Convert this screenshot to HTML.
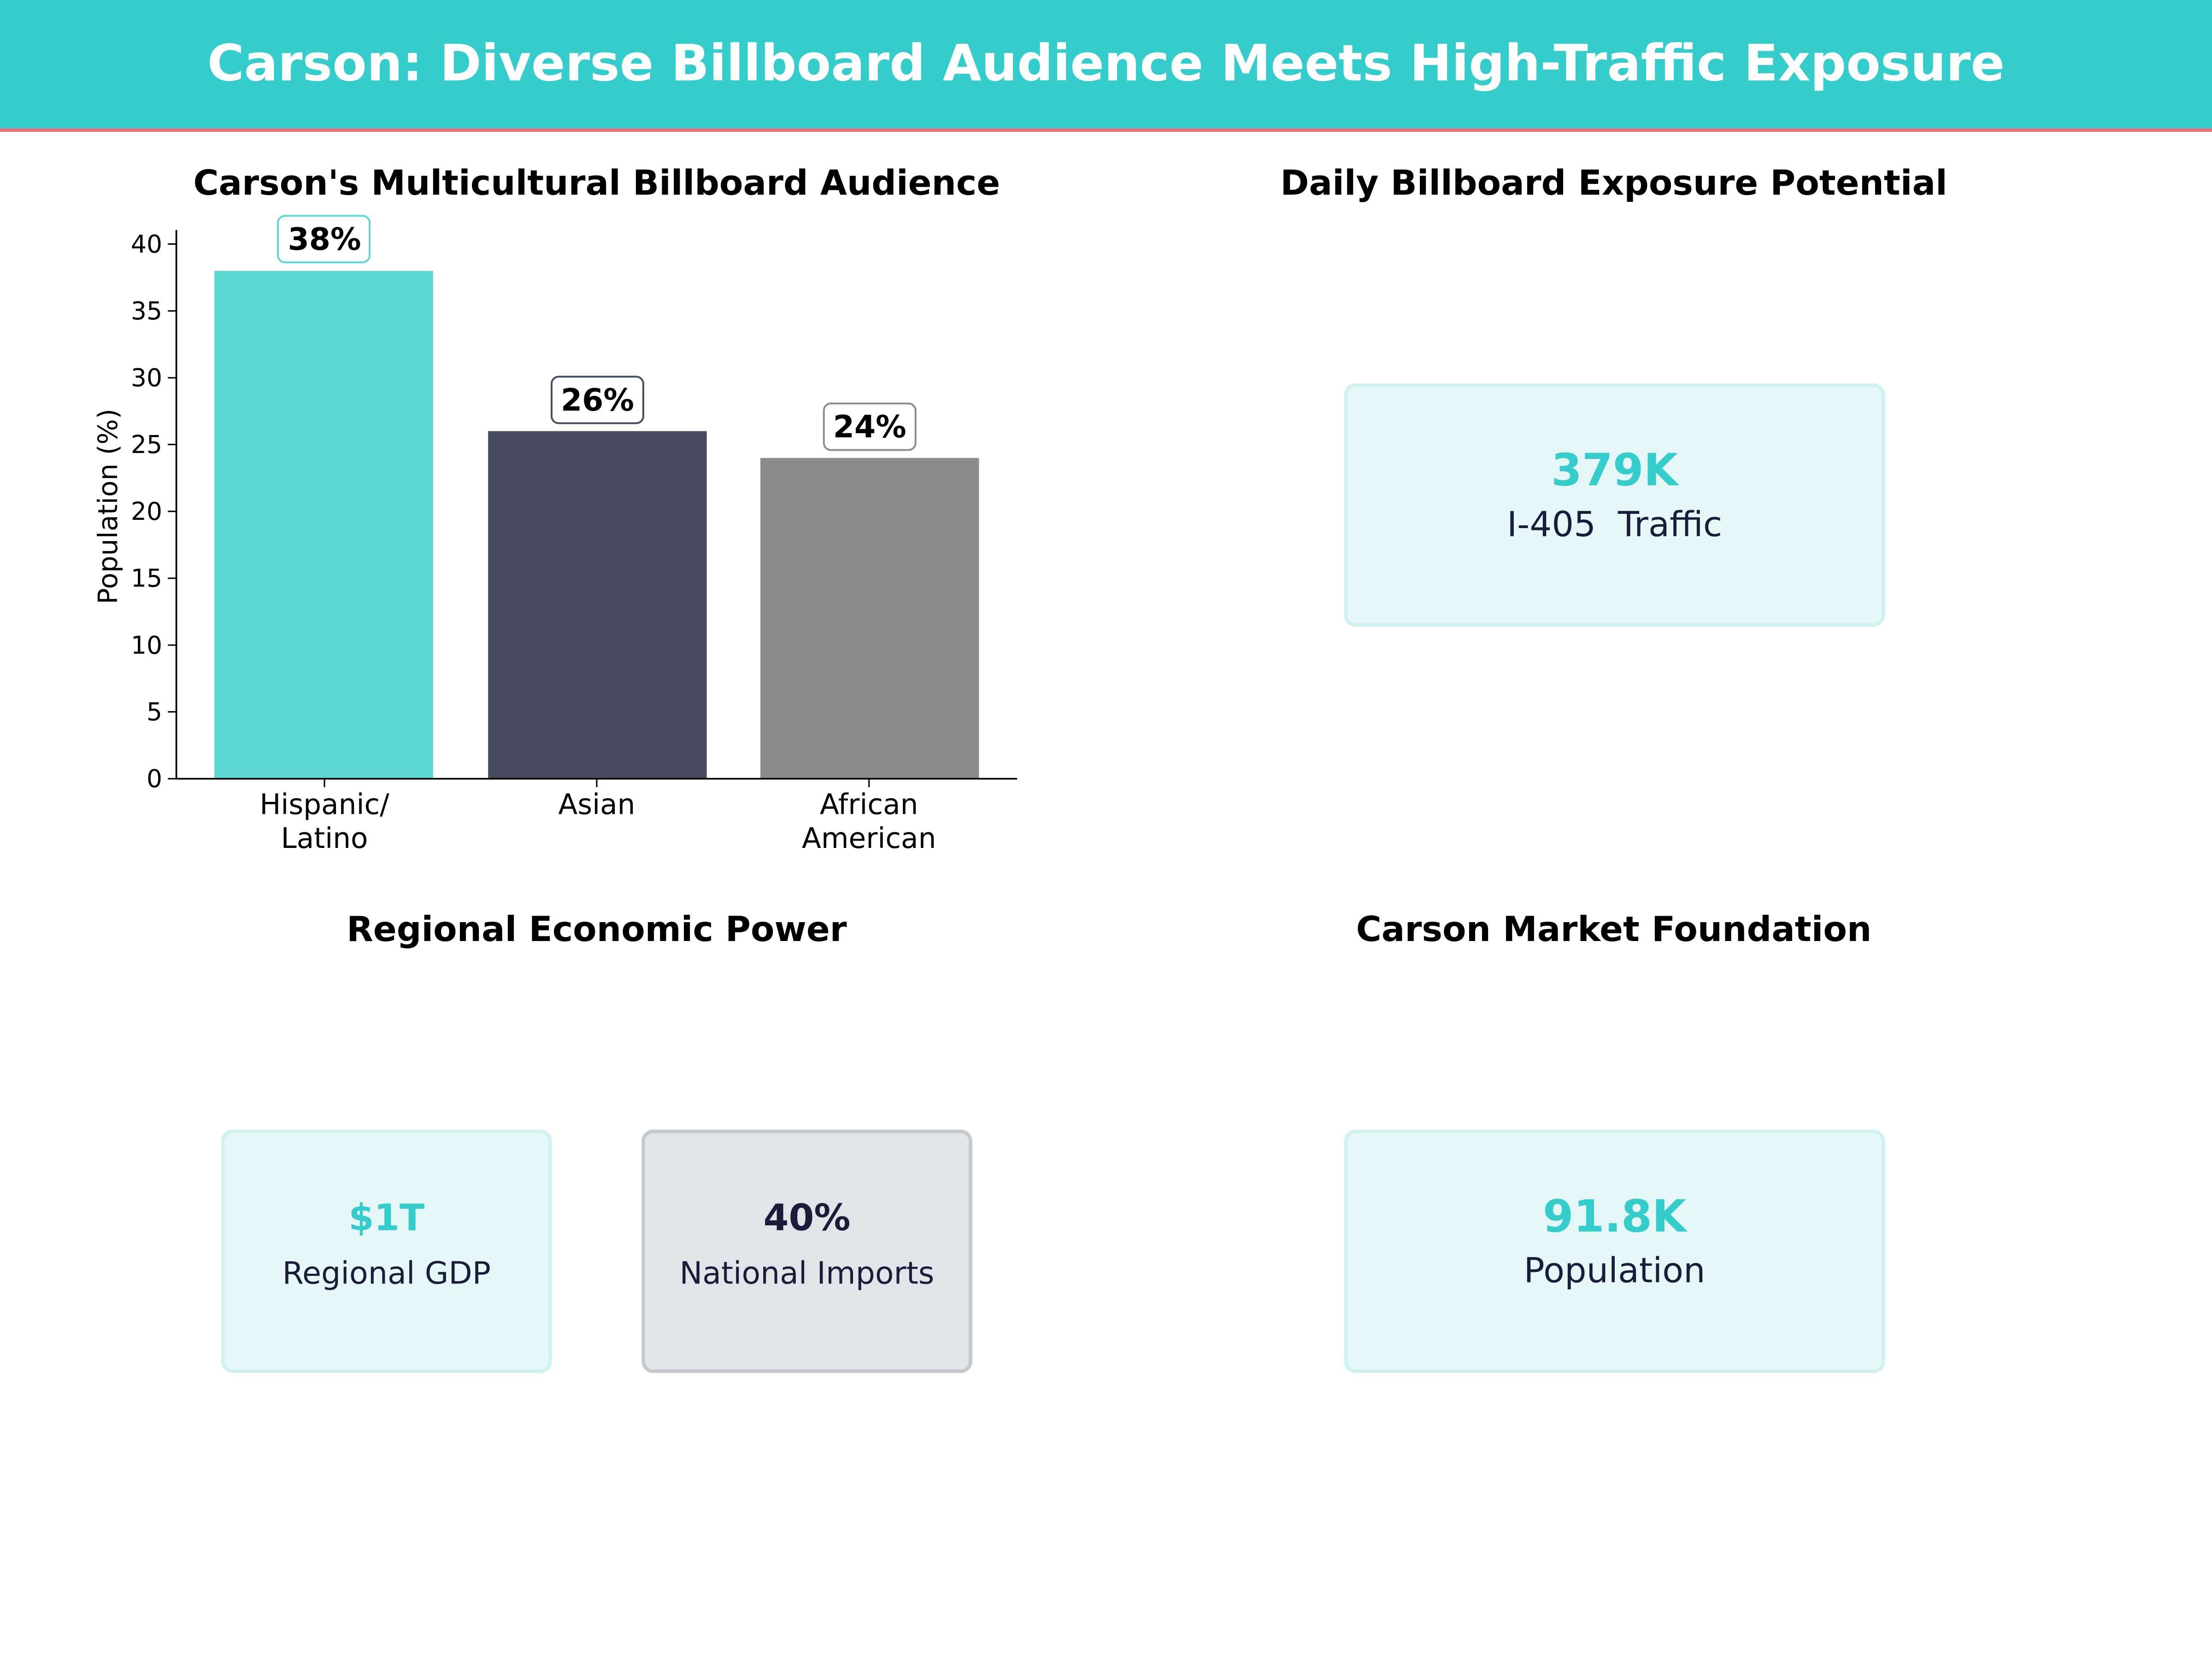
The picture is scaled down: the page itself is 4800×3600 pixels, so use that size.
<!DOCTYPE html>
<html><head><meta charset="utf-8"><style>
html,body{margin:0;padding:0;background:#fff;}
svg{display:block;}
text{font-family:"DejaVu Sans","Liberation Sans",sans-serif;}
</style></head><body>
<svg width="4800" height="3600" viewBox="0 0 1568 1176" xmlns="http://www.w3.org/2000/svg">
<rect x="0" y="0" width="1568" height="1176" fill="#fff"/>
<rect x="0" y="0" width="1568" height="92" fill="#35CCCC"/>
<rect x="0" y="91" width="1568" height="2.5" fill="#E8707A"/>
<text x="784" y="57" text-anchor="middle" font-size="35.5" font-weight="bold" fill="#fff">Carson: Diverse Billboard Audience Meets High-Traffic Exposure</text>

<!-- Panel 1 -->
<text x="423" y="138" text-anchor="middle" font-size="24.5" font-weight="bold" fill="#000">Carson's Multicultural Billboard Audience</text>
<rect x="152" y="192" width="155" height="360" fill="#5DD9D5"/>
<rect x="346" y="305.6" width="155" height="246.4" fill="#464B60"/>
<rect x="539" y="324.6" width="155" height="227.4" fill="#8C8C8C"/>
<line x1="125" y1="163" x2="125" y2="552.5" stroke="#000" stroke-width="1.2"/>
<line x1="124.5" y1="552" x2="721" y2="552" stroke="#000" stroke-width="1.2"/>
<g font-size="17.5" fill="#000" text-anchor="end">
<line x1="119" y1="552" x2="125" y2="552" stroke="#000"/><text x="115" y="558">0</text>
<line x1="119" y1="504.6" x2="125" y2="504.6" stroke="#000"/><text x="115" y="510.6">5</text>
<line x1="119" y1="457.3" x2="125" y2="457.3" stroke="#000"/><text x="115" y="463.3">10</text>
<line x1="119" y1="409.9" x2="125" y2="409.9" stroke="#000"/><text x="115" y="415.9">15</text>
<line x1="119" y1="362.5" x2="125" y2="362.5" stroke="#000"/><text x="115" y="368.5">20</text>
<line x1="119" y1="315.1" x2="125" y2="315.1" stroke="#000"/><text x="115" y="321.1">25</text>
<line x1="119" y1="267.8" x2="125" y2="267.8" stroke="#000"/><text x="115" y="273.8">30</text>
<line x1="119" y1="220.4" x2="125" y2="220.4" stroke="#000"/><text x="115" y="226.4">35</text>
<line x1="119" y1="173" x2="125" y2="173" stroke="#000"/><text x="115" y="179">40</text>
</g>
<text transform="translate(83,359) rotate(-90)" text-anchor="middle" font-size="19" fill="#000">Population (%)</text>
<g stroke="#000"><line x1="230" y1="552" x2="230" y2="558"/><line x1="423" y1="552" x2="423" y2="558"/><line x1="616" y1="552" x2="616" y2="558"/></g>
<g font-size="20" fill="#000" text-anchor="middle">
<text x="230" y="577">Hispanic/</text><text x="230" y="601">Latino</text>
<text x="423" y="577">Asian</text>
<text x="616" y="577">African</text><text x="616" y="601">American</text>
</g>
<rect x="197" y="153" width="65" height="33" rx="5" fill="#fff" stroke="#5DD9D5" stroke-width="1.3"/>
<text x="230" y="177" text-anchor="middle" font-size="21.7" font-weight="bold">38%</text>
<rect x="391" y="267" width="65" height="33" rx="5" fill="#fff" stroke="#464B60" stroke-width="1.3"/>
<text x="423.5" y="291" text-anchor="middle" font-size="21.7" font-weight="bold">26%</text>
<rect x="584" y="286" width="65" height="33" rx="5" fill="#fff" stroke="#8C8C8C" stroke-width="1.3"/>
<text x="616.5" y="310" text-anchor="middle" font-size="21.7" font-weight="bold">24%</text>

<!-- Panel 2 -->
<text x="1144" y="138" text-anchor="middle" font-size="24.5" font-weight="bold" fill="#000">Daily Billboard Exposure Potential</text>
<rect x="954" y="273" width="381" height="170" rx="7" fill="#E5F7F7" stroke="#CFF2F0" stroke-width="2.5"/>
<text x="1144.5" y="344" text-anchor="middle" font-size="31.4" font-weight="bold" fill="#35CCCC">379K</text>
<text x="1144.5" y="380" text-anchor="middle" font-size="24.6" fill="#1a1d3a" xml:space="preserve">I-405  Traffic</text>

<!-- Panel 3 -->
<text x="423" y="667" text-anchor="middle" font-size="24.5" font-weight="bold" fill="#000">Regional Economic Power</text>
<rect x="158" y="802" width="232" height="170" rx="7" fill="#E5F7F7" stroke="#CFF2F0" stroke-width="2.5"/>
<text x="274" y="872" text-anchor="middle" font-size="26" font-weight="bold" fill="#35CCCC">$1T</text>
<text x="274" y="910" text-anchor="middle" font-size="21.8" fill="#1a1d3a">Regional GDP</text>
<rect x="456" y="802" width="232" height="170" rx="7" fill="#E3E4E8" stroke="#C8C9CE" stroke-width="2.5"/>
<text x="572" y="872" text-anchor="middle" font-size="25.8" font-weight="bold" fill="#1a1d3a">40%</text>
<text x="572" y="910" text-anchor="middle" font-size="21.7" fill="#1a1d3a">National Imports</text>

<!-- Panel 4 -->
<text x="1144" y="667" text-anchor="middle" font-size="24.5" font-weight="bold" fill="#000">Carson Market Foundation</text>
<rect x="954" y="802" width="381" height="170" rx="7" fill="#E5F7F7" stroke="#CFF2F0" stroke-width="2.5"/>
<text x="1144.5" y="873" text-anchor="middle" font-size="31.4" font-weight="bold" fill="#35CCCC">91.8K</text>
<text x="1144.5" y="909" text-anchor="middle" font-size="24.5" fill="#1a1d3a">Population</text>
</svg>
</body></html>
